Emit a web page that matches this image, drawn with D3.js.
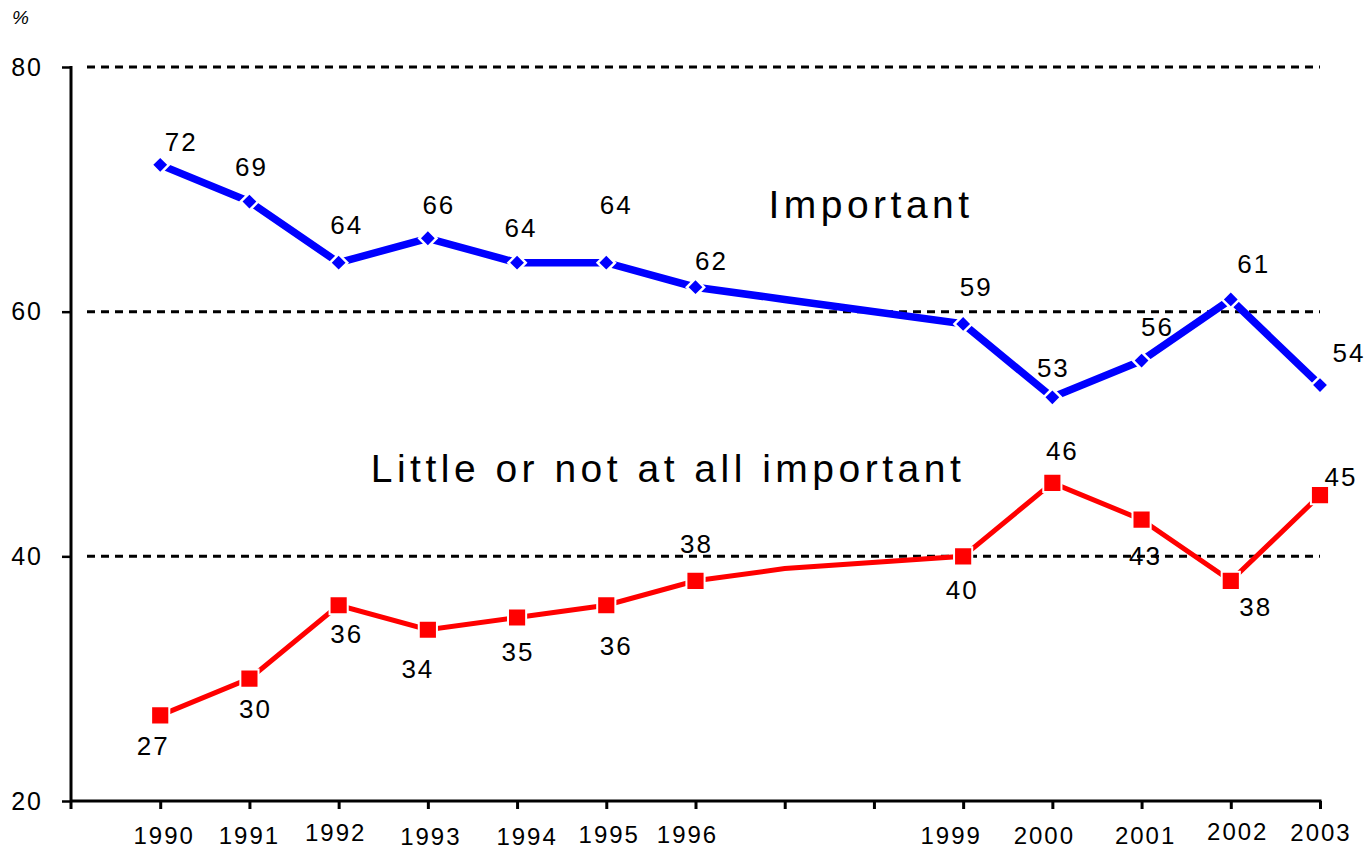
<!DOCTYPE html>
<html>
<head>
<meta charset="utf-8">
<script src="https://cdn.jsdelivr.net/npm/d3@7"></script>
<style>
  html, body { margin: 0; padding: 0; background: #fff; }
  svg { display: block; }
  text { font-family: "Liberation Sans", Arial, sans-serif; fill: #000; }
</style>
</head>
<body>
<svg id="chart" width="1368" height="849"></svg>
<script>
// ---- data ----
const years = ["1990","1991","1992","1993","1994","1995","1996","1997","1998","1999","2000","2001","2002","2003"];
const importantValues = [72, 69, 64, 66, 64, 64, 62, 61, null, 59, 53, 56, 61, 54];
const littleValues    = [27, 30, 36, 34, 35, 36, 38, 39, null, 40, 46, 43, 38, 45];
// years shown on the axis and carrying a marker + value label
const labelledYears = ["1990","1991","1992","1993","1994","1995","1996","1999","2000","2001","2002","2003"];
const yTicks = [20, 40, 60, 80];
const gridValues = [40, 60, 80];
const seriesNames = ["Important", "Little or not at all important"];

// ---- layout tweaks (label nudges, pixels) ----
const importantNudge = [[20,-23],[1,-35],[7,-38],[10,-34],[3,-35],[9,-58],[15,-27],null,null,[12,-37],[0,-30],[15,-34],[22,-36],[28,-33]];
const littleNudge    = [[-8,30],[5,30],[7,28],[-11,39],[0,34],[9,40],[0,-37],null,null,[-2,33],[9,-32],[3,36],[24,26],[20,-19]];
const tickNudge = {"1990":[3,0],"1991":[-1,0],"1992":[-4,-3],"1993":[2,0.5],"1994":[9,0.5],"1995":[2,-1],"1996":[-9,-1],
                   "1999":[-13,0],"2000":[-9,0],"2001":[3,0],"2002":[6,-4],"2003":[0,-3]};

const svg = d3.select("#chart");
const plotLeft = 71, plotRight = 1320, plotTop = 67, plotBottom = 801;
const step = (plotRight - plotLeft) / years.length;

const x = d3.scalePoint().domain(years).range([plotLeft + step, plotRight]);
const y = d3.scaleLinear().domain([20, 80]).range([plotBottom, plotTop]);

// gridlines
svg.append("g").selectAll("line").data(gridValues).join("line")
  .attr("x1", plotLeft + 16).attr("x2", plotRight)
  .attr("y1", d => y(d)).attr("y2", d => y(d))
  .attr("stroke", "#000").attr("stroke-width", 3).attr("stroke-dasharray", "8,6");

// y axis
const yAxis = svg.append("g").attr("transform", `translate(${plotLeft},0)`)
  .call(d3.axisLeft(y).tickValues(yTicks).tickSize(9).tickPadding(19).tickSizeOuter(0));
yAxis.select(".domain").remove();
yAxis.selectAll(".tick line").attr("stroke", "#000").attr("stroke-width", 2.5);
yAxis.selectAll(".tick text").attr("font-size", 25).attr("fill", "#000")
  .attr("font-family", "Liberation Sans, Arial, sans-serif").style("letter-spacing", "2px");
svg.append("line").attr("x1", plotLeft).attr("x2", plotLeft)
  .attr("y1", y(80) - 1).attr("y2", plotBottom + 8)
  .attr("stroke", "#000").attr("stroke-width", 3);

// x axis
svg.append("line").attr("x1", plotLeft).attr("x2", plotRight + 1.5)
  .attr("y1", plotBottom).attr("y2", plotBottom)
  .attr("stroke", "#000").attr("stroke-width", 3);
const xAxis = svg.append("g").attr("transform", `translate(0,${plotBottom})`)
  .call(d3.axisBottom(x).tickSize(8).tickSizeOuter(0).tickFormat(() => ""));
xAxis.select(".domain").remove();
xAxis.selectAll(".tick line").attr("stroke", "#000").attr("stroke-width", 3);
svg.append("g").selectAll("text").data(labelledYears).join("text")
  .attr("x", d => x(d) + tickNudge[d][0] + 1)
  .attr("y", d => 844 + tickNudge[d][1])
  .attr("text-anchor", "middle").attr("font-size", 24)
  .style("letter-spacing", "2px")
  .text(d => d);

// "%" unit
svg.append("text").attr("x", 12).attr("y", 24)
  .attr("font-family", "Liberation Serif, Times New Roman, serif")
  .attr("font-style", "italic").attr("font-size", 19).text("%");

// lines
function pts(values) {
  return years.map((yr, i) => ({ yr, v: values[i], i })).filter(d => d.v !== null);
}
const line = d3.line().x(d => x(d.yr)).y(d => y(d.v));

svg.append("path").datum(pts(importantValues)).attr("d", line)
  .attr("fill", "none").attr("stroke", "#0000ff").attr("stroke-width", 7.5).attr("stroke-linejoin", "miter");
svg.append("path").datum(pts(littleValues)).attr("d", line)
  .attr("fill", "none").attr("stroke", "#ff0000").attr("stroke-width", 5).attr("stroke-linejoin", "miter");

// markers
const marked = (values) => pts(values).filter(d => labelledYears.includes(d.yr));
svg.append("g").selectAll("path").data(marked(importantValues)).join("path")
  .attr("d", d3.symbol(d3.symbolSquare, 150)())
  .attr("transform", d => `translate(${x(d.yr)},${y(d.v)}) rotate(45)`)
  .attr("fill", "#0000ff").attr("stroke", "#fff").attr("stroke-width", 2.5);
svg.append("g").selectAll("path").data(marked(littleValues)).join("path")
  .attr("d", d3.symbol(d3.symbolSquare, 330)())
  .attr("transform", d => `translate(${x(d.yr)},${y(d.v)})`)
  .attr("fill", "#ff0000").attr("stroke", "#fff").attr("stroke-width", 2);

// value labels
function valueLabels(values, nudges) {
  svg.append("g").selectAll("text").data(marked(values)).join("text")
    .attr("x", d => x(d.yr) + nudges[d.i][0] + 1)
    .attr("y", d => y(d.v) + nudges[d.i][1] + 9.5)
    .attr("text-anchor", "middle").attr("font-size", 26)
    .style("letter-spacing", "2px")
    .text(d => d.v);
}
valueLabels(importantValues, importantNudge);
valueLabels(littleValues, littleNudge);

// series names
svg.append("text").attr("x", 871).attr("y", 218).attr("text-anchor", "middle")
  .attr("font-size", 39).style("letter-spacing", "4.5px").text(seriesNames[0]);
svg.append("text").attr("x", 668).attr("y", 482).attr("text-anchor", "middle")
  .attr("font-size", 39).style("letter-spacing", "4.5px").text(seriesNames[1]);
</script>
</body>
</html>
